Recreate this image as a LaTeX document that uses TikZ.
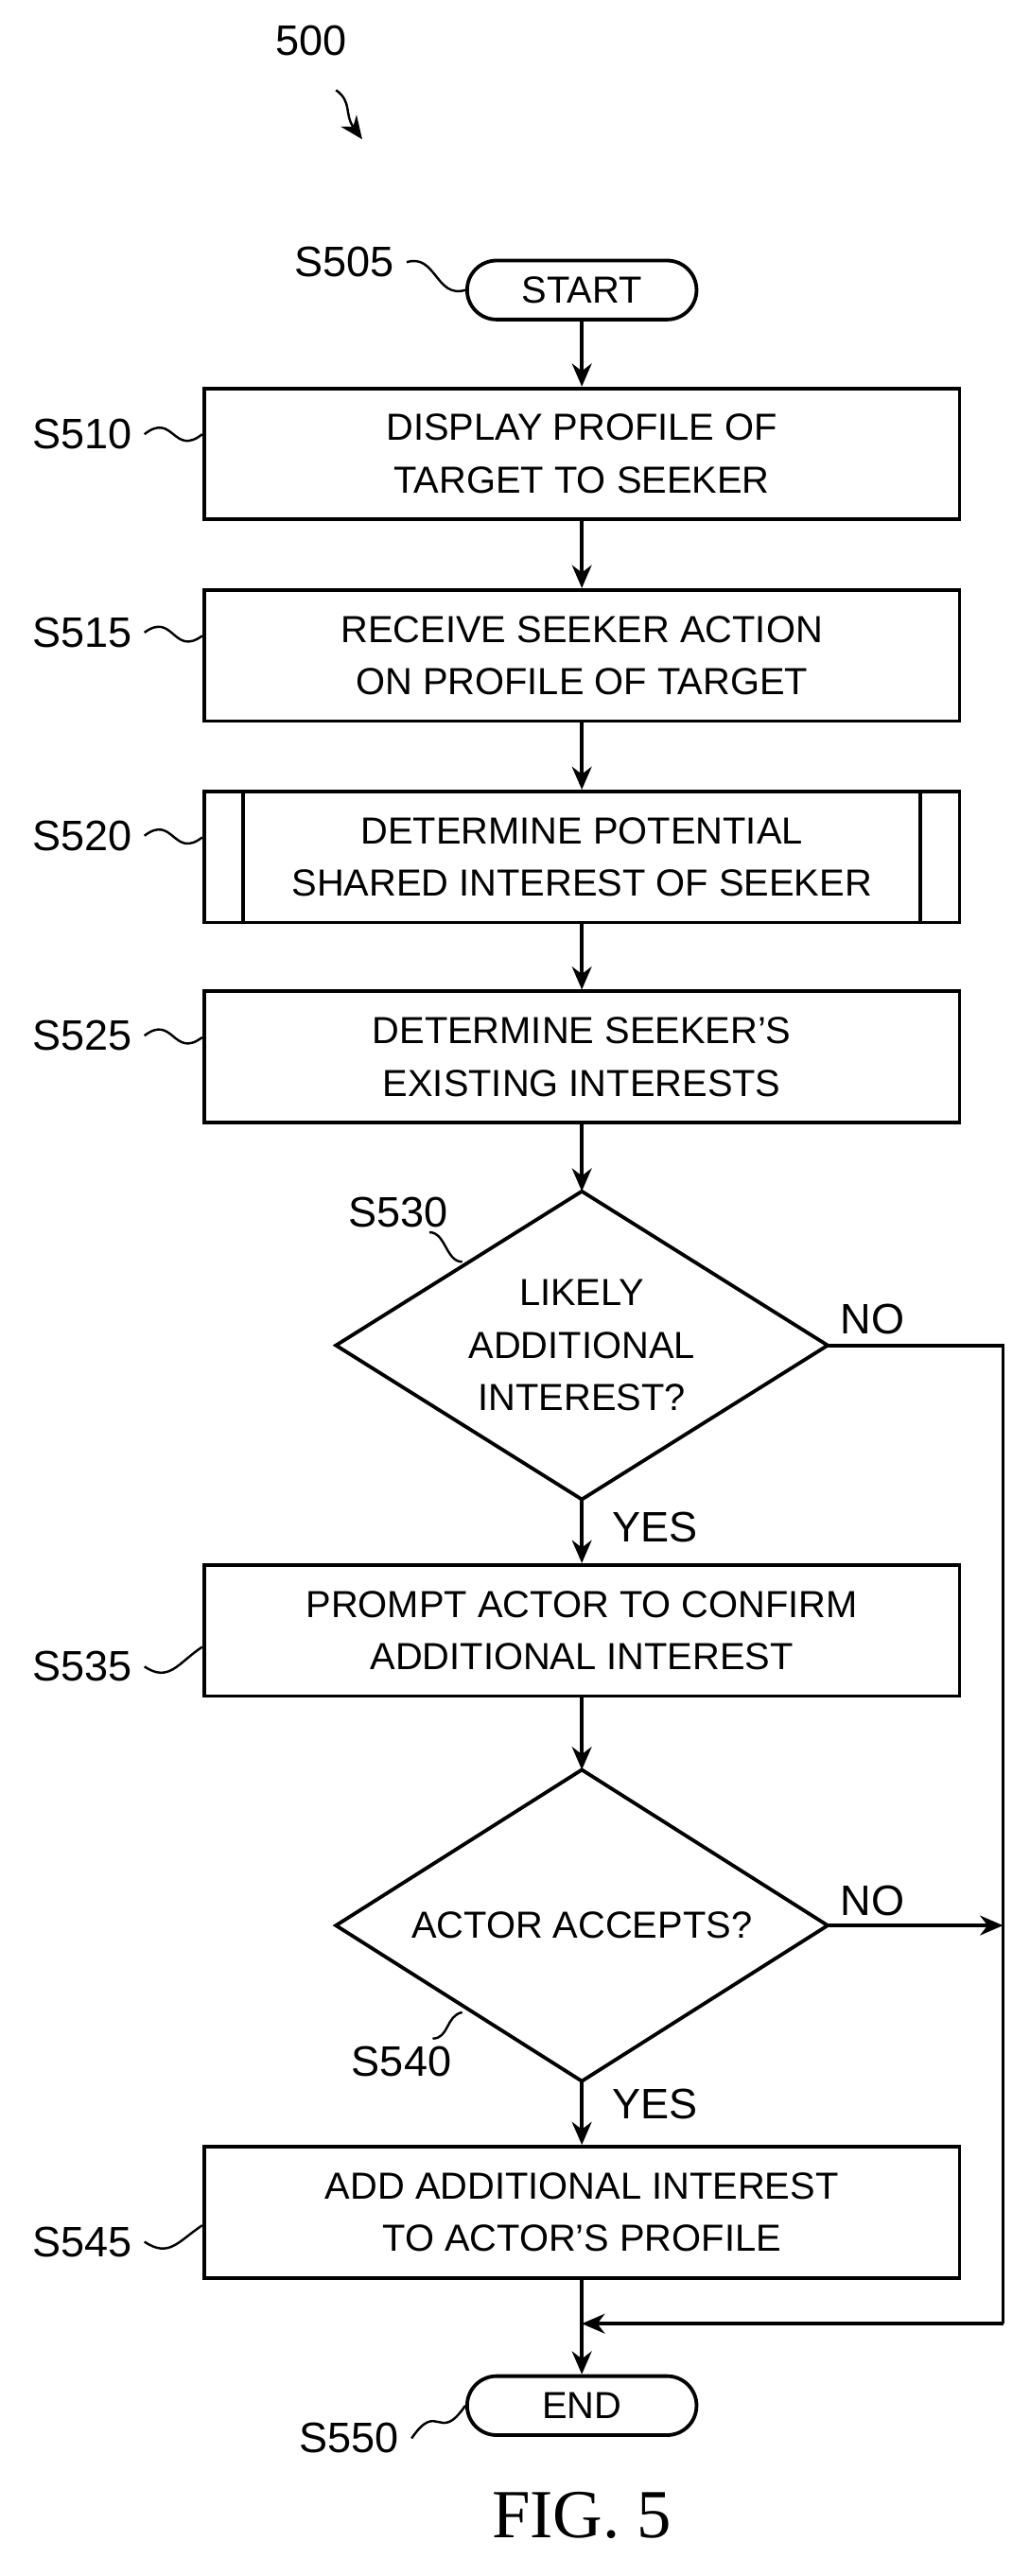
\documentclass[tikz,border=0pt]{standalone}
\usepackage{fontspec}
\setmainfont{Liberation Sans}
\usetikzlibrary{shapes.geometric,calc,arrows.meta}
\begin{document}
\begin{tikzpicture}[x=0.5pt,y=-0.5pt,line width=1.1pt,
  box/.style={draw,minimum width=230.5pt,minimum height=40pt,align=center,font=\fontsize{11.5}{16}\selectfont},
  pill/.style={draw,rounded corners=9pt,minimum width=70pt,minimum height=18pt,font=\fontsize{11.5}{14}\selectfont},
  dtext/.style={align=center,font=\fontsize{11.5}{16}\selectfont},
  lab/.style={font=\fontsize{13}{15}\selectfont},
  arr/.style={-{Stealth[length=7pt,width=6pt]}},
  sq/.style={line width=0.7pt}]
\useasboundingbox (0,0) rectangle (628,1572);
\newcommand{\squig}[2]{\draw[sq] (#1) .. controls ($(#1)!0.5!(#2)+(0,-14)$) and ($(#1)!0.5!(#2)+(0,14)$) .. (#2);}
\node[lab] (l500) at (190,25) {500};
\draw[sq,arr] (205,55) .. controls (215,62) and (210,70) .. (221,85);
\node[pill] (start) at (355,177) {START};
\node[box] (s510) at (355,277) {DISPLAY PROFILE OF\\TARGET TO SEEKER};
\node[box] (s515) at (355,400) {RECEIVE SEEKER ACTION\\ON PROFILE OF TARGET};
\node[box] (s520) at (355,523) {DETERMINE POTENTIAL\\SHARED INTEREST OF SEEKER};
\draw ($(s520.north west)+(25,0)$) -- ($(s520.south west)+(25,0)$)
      ($(s520.north east)+(-25,0)$) -- ($(s520.south east)+(-25,0)$);
\node[box] (s525) at (355,645) {DETERMINE SEEKER'S\\EXISTING INTERESTS};
% diamond S530
\coordinate (d1t) at (355,727); \coordinate (d1r) at (505,821);
\coordinate (d1b) at (355,915); \coordinate (d1l) at (205,821);
\draw (d1t) -- (d1r) -- (d1b) -- (d1l) -- cycle;
\node[dtext] (s530) at (355,821) {LIKELY\\ADDITIONAL\\INTEREST?};
\node[box] (s535) at (355,995) {PROMPT ACTOR TO CONFIRM\\ADDITIONAL INTEREST};
% diamond S540
\coordinate (d2t) at (355,1080); \coordinate (d2r) at (505,1175);
\coordinate (d2b) at (355,1270); \coordinate (d2l) at (205,1175);
\draw (d2t) -- (d2r) -- (d2b) -- (d2l) -- cycle;
\node[dtext] (s540) at (355,1175) {ACTOR ACCEPTS?};
\node[box] (s545) at (355,1350) {ADD ADDITIONAL INTEREST\\TO ACTOR'S PROFILE};
\node[pill] (end) at (355,1468) {END};
\coordinate (c1) at (612,821);
\coordinate (c2) at (612,1175);
\coordinate (c3) at (612,1418);
\coordinate (c4) at (355,1418);
\draw[arr] (start) -- (s510);
\draw[arr] (s510) -- (s515);
\draw[arr] (s515) -- (s520);
\draw[arr] (s520) -- (s525);
\draw[arr] (s525) -- (d1t);
\draw[arr] (d1b) -- (s535);
\draw[arr] (s535) -- (d2t);
\draw[arr] (d2b) -- (s545);
\draw[arr] (s545) -- (end);
\draw (d1r) -- (c1) -- (c3);
\draw[arr] (c3) -- (c4);
\draw[arr] (d2r) -- (c2);
\node[lab,anchor=west] (no1) at (505,805) {NO};
\node[lab,anchor=west] (no2) at (505,1160) {NO};
\node[lab,anchor=west] (yes1) at (366,932) {YES};
\node[lab,anchor=west] (yes2) at (366,1284) {YES};
\node[lab] (l505) at (210,160) {S505};
\node[lab] (l510) at (50,265) {S510};
\node[lab] (l515) at (50,386) {S515};
\node[lab] (l520) at (50,510) {S520};
\node[lab] (l525) at (50,632) {S525};
\node[lab] (l530) at (243,740) {S530};
\node[lab] (l535) at (50,1017) {S535};
\node[lab] (l540) at (245,1258) {S540};
\node[lab] (l545) at (50,1368) {S545};
\node[lab] (l550) at (213,1488) {S550};
\coordinate (q530) at (282,770);
\coordinate (q540) at (282,1228);
\squig{l505.east}{start.west}
\squig{l510.east}{$(s510.west)+(0,-12)$}
\squig{l515.east}{$(s515.west)+(0,-12)$}
\squig{l520.east}{$(s520.west)+(0,-12)$}
\squig{l525.east}{$(s525.west)+(0,-12)$}
\draw[sq] (262,752) .. controls (272,752) and (272,770) .. (q530);
\draw[sq] (l535.east) .. controls +(15,10) and +(-15,10) .. ($(s535.west)+(0,10)$);
\draw[sq] (264,1244) .. controls (274,1244) and (272,1230) .. (q540);
\draw[sq] (l545.east) .. controls +(15,10) and +(-15,10) .. ($(s545.west)+(0,8)$);
\squig{l550.east}{end.west}
\node[font=\fontsize{21}{24}\selectfont\fontspec{Liberation Serif}] (fig) at (355,1535) {FIG. 5};
\end{tikzpicture}
\end{document}
